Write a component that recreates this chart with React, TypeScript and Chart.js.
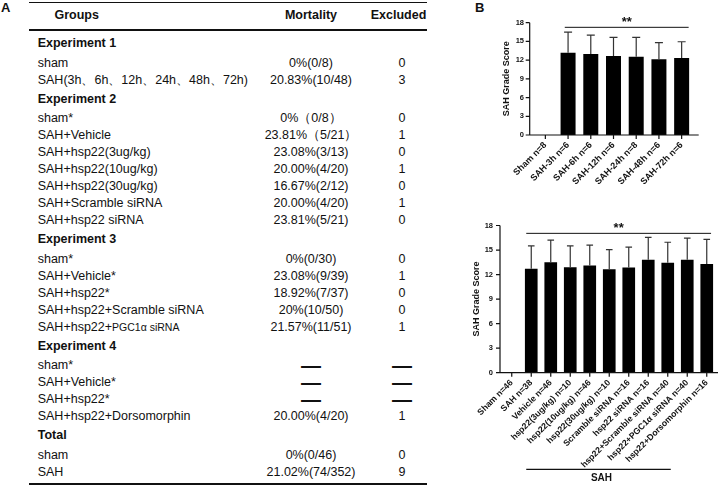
import React, { useEffect, useRef } from "react";
import { Chart, registerables } from "chart.js";

Chart.register(...registerables);

const FONT = "Arial, 'Liberation Sans', Helvetica, sans-serif";

// ---------- Panel A: mortality table ----------
const sectionTitles = ["Experiment 1", "Experiment 2", "Experiment 3", "Experiment 4", "Total"];

const exp1Groups = ["sham", "SAH(3h、6h、12h、24h、48h、72h)"];
const exp1Mortality = ["0%(0/8)", "20.83%(10/48)"];
const exp1Excluded = ["0", "3"];

const exp2Groups = [
  "sham*",
  "SAH+Vehicle",
  "SAH+hsp22(3ug/kg)",
  "SAH+hsp22(10ug/kg)",
  "SAH+hsp22(30ug/kg)",
  "SAH+Scramble siRNA",
  "SAH+hsp22 siRNA",
];
const exp2Mortality = ["0%（0/8）", "23.81%（5/21）", "23.08%(3/13)", "20.00%(4/20)", "16.67%(2/12)", "20.00%(4/20)", "23.81%(5/21)"];
const exp2Excluded = ["0", "1", "0", "1", "0", "1", "0"];

const exp3Groups = ["sham*", "SAH+Vehicle*", "SAH+hsp22*", "SAH+hsp22+Scramble siRNA", "SAH+hsp22+PGC1α siRNA"];
const exp3Mortality = ["0%(0/30)", "23.08%(9/39)", "18.92%(7/37)", "20%(10/50)", "21.57%(11/51)"];
const exp3Excluded = ["0", "1", "0", "0", "1"];

const exp4Groups = ["sham*", "SAH+Vehicle*", "SAH+hsp22*", "SAH+hsp22+Dorsomorphin"];
const exp4Mortality = ["—", "—", "—", "20.00%(4/20)"];
const exp4Excluded = ["—", "—", "—", "1"];

const totalGroups = ["sham", "SAH"];
const totalMortality = ["0%(0/46)", "21.02%(74/352)"];
const totalExcluded = ["0", "9"];

const sectionGroups = [exp1Groups, exp2Groups, exp3Groups, exp4Groups, totalGroups];
const sectionMortality = [exp1Mortality, exp2Mortality, exp3Mortality, exp4Mortality, totalMortality];
const sectionExcluded = [exp1Excluded, exp2Excluded, exp3Excluded, exp4Excluded, totalExcluded];

// ---------- Panel B: SAH grade score ----------
const timeLabels = ["Sham n=8", "SAH-3h n=6", "SAH-6h n=6", "SAH-12h n=6", "SAH-24h n=8", "SAH-48h n=6", "SAH-72h n=6"];
const timeMeans = [0, 13.2, 13.0, 12.65, 12.55, 12.15, 12.35];
const timeSD = [0, 3.3, 3.0, 3.0, 3.1, 2.65, 2.6];

const groupLabels = [
  "Sham n=46",
  "SAH n=38",
  "Vehicle n=46",
  "hsp22(3ug/kg) n=10",
  "hsp22(10ug/kg) n=46",
  "hsp22(30ug/kg) n=10",
  "Scramble siRNA n=16",
  "hsp22 siRNA n=16",
  "hsp22+Scramble siRNA n=40",
  "hsp22+PGC1α siRNA n=40",
  "hsp22+Dorsomorphin n=16",
];
const groupMeans = [0, 12.7, 13.5, 12.9, 13.1, 12.65, 12.85, 13.8, 13.45, 13.8, 13.3];
const groupSD = [0, 2.8, 2.7, 2.6, 2.5, 2.4, 2.5, 2.75, 2.5, 2.65, 3.0];

const yMax = 18;
const yStep = 3;
const yTitle = "SAH Grade Score";
const sigText = "**";
const bracketText = "SAH";

type Geo = {
  left: number; top: number; width: number; height: number;
  padRight: number; padTop: number; yWidth: number; xHeight: number;
  gapL: number; gapR: number; yTickPad: number; xTickPad: number; titlePad: number;
  xFont: number; barPct: number; capW: number;
  sigVal: number; sigLOff: number; sigROff: number;
  bracket?: { from: number; to: number; lOff: number; rOff: number; below: number };
};

function ScoreChart({ labels, means, sds, geo }: { labels: string[]; means: number[]; sds: number[]; geo: Geo }) {
  const ref = useRef<HTMLCanvasElement>(null);
  useEffect(() => {
    const g = geo;
    const decor = {
      id: "decor",
      afterDraw(chart: any) {
        const { ctx, chartArea, scales } = chart;
        const x = scales.x;
        const y = scales.y;
        ctx.save();
        // error bars (upper SD)
        ctx.strokeStyle = "#333";
        ctx.lineWidth = 1.2;
        means.forEach((m, i) => {
          if (!m) return;
          const px = x.getPixelForValue(i);
          const yb = y.getPixelForValue(m);
          const yt = y.getPixelForValue(m + sds[i]);
          ctx.beginPath();
          ctx.moveTo(px, yb);
          ctx.lineTo(px, yt);
          ctx.moveTo(px - g.capW / 2, yt);
          ctx.lineTo(px + g.capW / 2, yt);
          ctx.stroke();
        });
        // axes
        const ax = chartArea.left - g.gapL;
        const y0 = y.getPixelForValue(0);
        const yTop = y.getPixelForValue(yMax);
        ctx.strokeStyle = "#111";
        ctx.lineWidth = 1.2;
        ctx.beginPath();
        ctx.moveTo(ax, yTop);
        ctx.lineTo(ax, y0);
        ctx.lineTo(chartArea.right + g.gapR, y0);
        y.ticks.forEach((t: any) => {
          const py = y.getPixelForValue(t.value);
          ctx.moveTo(ax - 4, py);
          ctx.lineTo(ax, py);
        });
        labels.forEach((_, i) => {
          const px = x.getPixelForValue(i);
          ctx.moveTo(px, y0);
          ctx.lineTo(px, y0 + 4);
        });
        ctx.stroke();
        // significance line
        const sy = y.getPixelForValue(g.sigVal);
        const sx1 = x.getPixelForValue(1) + g.sigLOff;
        const sx2 = x.getPixelForValue(labels.length - 1) + g.sigROff;
        ctx.lineWidth = 1;
        ctx.beginPath();
        ctx.moveTo(sx1, sy);
        ctx.lineTo(sx2, sy);
        ctx.stroke();
        ctx.fillStyle = "#111";
        ctx.font = `bold 13px ${FONT}`;
        ctx.textAlign = "center";
        ctx.textBaseline = "alphabetic";
        ctx.fillText(sigText, (sx1 + sx2) / 2, sy - 1.3);
        // group bracket
        if (g.bracket) {
          const b = g.bracket;
          const bx1 = x.getPixelForValue(b.from) + b.lOff;
          const bx2 = x.getPixelForValue(b.to) + b.rOff;
          const by = y0 + b.below;
          ctx.lineWidth = 1.2;
          ctx.beginPath();
          ctx.moveTo(bx1, by);
          ctx.lineTo(bx2, by);
          ctx.stroke();
          ctx.font = `bold 10px ${FONT}`;
          ctx.fillText(bracketText, (bx1 + bx2) / 2 + 3, by + 12);
        }
        ctx.restore();
      },
    };
    const chart = new Chart(ref.current as HTMLCanvasElement, {
      type: "bar",
      data: {
        labels,
        datasets: [
          {
            data: means,
            backgroundColor: "#000",
            borderWidth: 0,
            barPercentage: g.barPct,
            categoryPercentage: 1,
          },
        ],
      },
      options: {
        responsive: false,
        maintainAspectRatio: false,
        animation: false,
        devicePixelRatio: 1,
        layout: { padding: { left: 0, right: g.padRight, top: g.padTop, bottom: 0 } },
        plugins: { legend: { display: false }, tooltip: { enabled: false } },
        scales: {
          x: {
            grid: { display: false, drawTicks: false, tickLength: 0 },
            border: { display: false },
            ticks: {
              autoSkip: false,
              maxRotation: 45,
              minRotation: 45,
              padding: g.xTickPad,
              color: "#111",
              font: { family: FONT, size: g.xFont, weight: "bold" },
            },
            afterFit: (s: any) => {
              s.height = g.xHeight;
            },
          },
          y: {
            min: 0,
            max: yMax,
            grid: { display: false, drawTicks: false, tickLength: 0 },
            border: { display: false },
            ticks: {
              stepSize: yStep,
              padding: g.yTickPad,
              color: "#111",
              font: { family: FONT, size: 7.5, weight: "bold" },
            },
            title: {
              display: true,
              text: yTitle,
              color: "#111",
              font: { family: FONT, size: 9, weight: "bold" },
              padding: { top: g.titlePad, bottom: 0 },
            },
            afterFit: (s: any) => {
              s.width = g.yWidth;
            },
          },
        },
      } as any,
      plugins: [decor],
    });
    return () => chart.destroy();
  }, []);
  return (
    <canvas
      ref={ref}
      width={geo.width}
      height={geo.height}
      style={{ position: "absolute", left: geo.left, top: geo.top, width: geo.width, height: geo.height }}
    />
  );
}

const topGeo: Geo = {
  left: 480, top: 0, width: 241, height: 200,
  padRight: 28, padTop: 22.7, yWidth: 54, xHeight: 65,
  gapL: 4.3, gapR: 5.7, yTickPad: 10, xTickPad: 5, titlePad: 21.3,
  xFont: 9, barPct: 0.66, capW: 8,
  sigVal: 17.26, sigLOff: -3.3, sigROff: 7,
};

const bottomGeo: Geo = {
  left: 465, top: 205, width: 256, height: 280,
  padRight: 4.5, padTop: 20.5, yWidth: 37, xHeight: 112.3,
  gapL: 2, gapR: 1.5, yTickPad: 9, xTickPad: 5, titlePad: 6.1,
  xFont: 8.7, barPct: 0.65, capW: 6.6,
  sigVal: 17.04, sigLOff: -5, sigROff: 4.3,
  bracket: { from: 1, to: 8, lOff: -5, rOff: 3, below: 96.6 },
};

function MortalityTable() {
  const items: React.ReactNode[] = [];
  let y = 33.25;
  const headH = 21.5;
  const rowH = 17;
  const txt = "#111";
  sectionTitles.forEach((title, si) => {
    items.push(
      <div key={"s" + si} style={{ position: "absolute", left: 37.7, top: y, height: headH, lineHeight: headH + "px", fontWeight: "bold", whiteSpace: "nowrap" }}>
        {title}
      </div>
    );
    y += headH;
    sectionGroups[si].forEach((grp, ri) => {
      const mort = sectionMortality[si][ri];
      const exc = sectionExcluded[si][ri];
      const k = si + "-" + ri;
      const pIdx = grp.indexOf("PGC1α");
      const groupNode =
        pIdx >= 0 ? (
          <>
            {grp.slice(0, pIdx)}
            <span style={{ fontSize: 10.5 }}>{grp.slice(pIdx)}</span>
          </>
        ) : (
          grp
        );
      const cell = (v: string) =>
        v === "—" ? <span style={{ fontSize: 20, fontWeight: "bold", lineHeight: rowH + "px" }}>{v}</span> : v;
      items.push(
        <div key={"g" + k} style={{ position: "absolute", left: 37.7, top: y, height: rowH, lineHeight: rowH + "px", whiteSpace: "nowrap", color: txt }}>
          {groupNode}
        </div>
      );
      items.push(
        <div key={"m" + k} style={{ position: "absolute", left: 241, width: 140, top: y, height: rowH, lineHeight: rowH + "px", textAlign: "center", whiteSpace: "nowrap", color: txt }}>
          {cell(mort)}
        </div>
      );
      items.push(
        <div key={"e" + k} style={{ position: "absolute", left: 372, width: 60, top: y, height: rowH, lineHeight: rowH + "px", textAlign: "center", whiteSpace: "nowrap", color: txt }}>
          {cell(exc)}
        </div>
      );
      y += rowH;
    });
  });
  const rule = (top: number, h: number, key: string) => (
    <div key={key} style={{ position: "absolute", left: 29.3, width: 397.4, top, height: h, background: "#111" }} />
  );
  return (
    <>
      {rule(1.5, 1.5, "r1")}
      {rule(28.5, 2, "r2")}
      {rule(482.7, 2.5, "r3")}
      <div style={{ position: "absolute", left: 0, width: 153.4, top: 6, height: 18, lineHeight: "18px", textAlign: "center", fontWeight: "bold" }}>Groups</div>
      <div style={{ position: "absolute", left: 251, width: 120, top: 6, height: 18, lineHeight: "18px", textAlign: "center", fontWeight: "bold" }}>Mortality</div>
      <div style={{ position: "absolute", left: 358.5, width: 80, top: 6, height: 18, lineHeight: "18px", textAlign: "center", fontWeight: "bold" }}>Excluded</div>
      {items}
    </>
  );
}

export default function App() {
  return (
    <div
      style={{
        position: "absolute",
        left: 0,
        top: 0,
        width: 721,
        height: 485,
        background: "#fff",
        overflow: "hidden",
        fontFamily: FONT,
        fontSize: 12.5,
        color: "#111",
      }}
    >
      <div style={{ position: "absolute", left: 1, top: 0, fontSize: 13, fontWeight: "bold", lineHeight: "16px" }}>A</div>
      <div style={{ position: "absolute", left: 475, top: 0, fontSize: 13, fontWeight: "bold", lineHeight: "16px" }}>B</div>
      <MortalityTable />
      <ScoreChart labels={timeLabels} means={timeMeans} sds={timeSD} geo={topGeo} />
      <ScoreChart labels={groupLabels} means={groupMeans} sds={groupSD} geo={bottomGeo} />
    </div>
  );
}
